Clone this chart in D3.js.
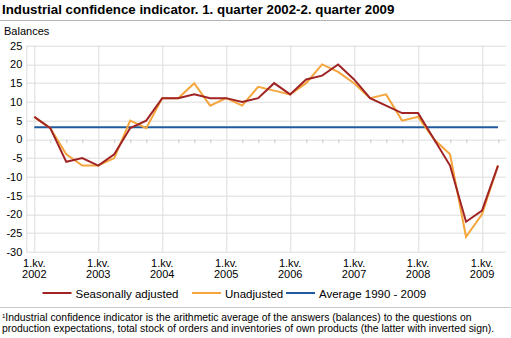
<!DOCTYPE html>
<html>
<head>
<meta charset="utf-8">
<script src="https://cdn.jsdelivr.net/npm/d3@7"></script>
<style>
body { margin:0; background:#fff; font-family: "Liberation Sans", Arial, sans-serif; }
svg text { fill:#000; }
</style>
</head>
<body>
<div id="chart"></div>
<script>
var quarters = [];
var years = [2002, 2003, 2004, 2005, 2006, 2007, 2008, 2009];
years.forEach(function(y) { for (var q = 1; q <= 4; q++) quarters.push(y + "Q" + q); });
quarters = quarters.slice(0, 30);

var seasonal = [6, 3, -6, -5, -7, -4, 3, 5, 11, 11, 12, 11, 11, 10, 11, 15,
                12, 16, 17, 20, 16, 11, 9, 7, 7, 0, -7, -22, -19, -7];
var unadjusted = [6, 3, -4, -7, -7, -5, 5, 3, 11, 11, 15, 9, 11, 9, 14, 13,
                  12, 15, 20, 18, 15, 11, 12, 5, 6, 0, -4, -26, -20, -7];
var average = 3.2;
var yTicks = [25, 20, 15, 10, 5, 0, -5, -10, -15, -20, -25, -30];

var W = 511, H = 338;
var margin = {top: 45.7, left: 26.3, right: 5, bottom: 86.3};
var width = W - margin.left - margin.right;
var height = H - margin.top - margin.bottom;

var svg = d3.select("#chart").append("svg")
  .attr("width", W).attr("height", H)
  .style("font-family", '"Liberation Sans", Arial, sans-serif');

svg.append("text").attr("x", 2).attr("y", 14)
  .style("font-size", "13.3px").style("font-weight", "bold")
  .text("Industrial confidence indicator. 1. quarter 2002-2. quarter 2009");
svg.append("line").attr("x1", 0).attr("x2", W).attr("y1", 20.5).attr("y2", 20.5)
  .attr("stroke", "#b3b3b3").attr("stroke-width", 1);
svg.append("text").attr("x", 4).attr("y", 35).style("font-size", "11px").text("Balances");

var g = svg.append("g").attr("transform", "translate(" + margin.left + "," + margin.top + ")");

var x = d3.scaleBand().domain(quarters).range([0, width]);
var y = d3.scaleLinear().domain([-30, 25]).range([height, 0]);
var cx = function(q) { return x(q) + x.bandwidth() / 2; };

// horizontal grid
g.selectAll(".hgrid").data(yTicks).enter().append("line")
  .attr("x1", 0).attr("x2", width)
  .attr("y1", function(d) { return Math.round(y(d)) + 0.5; })
  .attr("y2", function(d) { return Math.round(y(d)) + 0.5; })
  .attr("stroke", "#dcdcdc").attr("stroke-width", 1);

// vertical grid at 1st quarters
var firstQ = quarters.filter(function(q) { return /Q1$/.test(q); });
g.selectAll(".vgrid").data(firstQ).enter().append("line")
  .attr("x1", function(d) { return Math.round(cx(d)) + 0.5; })
  .attr("x2", function(d) { return Math.round(cx(d)) + 0.5; })
  .attr("y1", 0).attr("y2", height)
  .attr("stroke", "#dcdcdc").attr("stroke-width", 1);

// left axis line
g.append("line").attr("x1", 0.5).attr("x2", 0.5).attr("y1", 0).attr("y2", height)
  .attr("stroke", "#dcdcdc");

// quarter ticks on zero line
var otherQ = quarters.filter(function(q) { return !/Q1$/.test(q); });
g.selectAll(".qtick").data(otherQ).enter().append("line")
  .attr("x1", function(d) { return Math.round(cx(d)) + 0.5; })
  .attr("x2", function(d) { return Math.round(cx(d)) + 0.5; })
  .attr("y1", y(0)).attr("y2", y(0) + 4)
  .attr("stroke", "#cfcfcf");

// y tick labels
g.selectAll(".ylab").data(yTicks).enter().append("text")
  .attr("x", -4).attr("y", function(d) { return y(d) + 4; })
  .attr("text-anchor", "end").style("font-size", "11px")
  .text(function(d) { return d; });

// x tick labels
var xl = g.selectAll(".xlab").data(firstQ).enter().append("text")
  .attr("text-anchor", "middle").style("font-size", "11px")
  .attr("transform", function(d) { return "translate(" + cx(d) + "," + (height + 15) + ")"; });
xl.append("tspan").attr("x", 0).attr("y", 0).text("1.kv.");
xl.append("tspan").attr("x", 0).attr("y", 11).text(function(d) { return d.slice(0, 4); });

// average line
g.append("line").attr("x1", cx(quarters[0])).attr("x2", cx(quarters[quarters.length - 1]))
  .attr("y1", y(average)).attr("y2", y(average))
  .attr("stroke", "#1f5a9c").attr("stroke-width", 2);

var line = d3.line().x(function(d, i) { return cx(quarters[i]); }).y(function(d) { return y(d); });

g.append("path").datum(unadjusted).attr("d", line)
  .attr("fill", "none").attr("stroke", "#f5a53c").attr("stroke-width", 2)
  .attr("stroke-linejoin", "miter");
g.append("path").datum(seasonal).attr("d", line)
  .attr("fill", "none").attr("stroke", "#a02424").attr("stroke-width", 2)
  .attr("stroke-linejoin", "miter");

// legend
var legend = [
  {name: "Seasonally adjusted", color: "#a02424", x: 42.5},
  {name: "Unadjusted", color: "#f5a53c", x: 192},
  {name: "Average 1990 - 2009", color: "#1f5a9c", x: 286}
];
var lg = svg.selectAll(".legend").data(legend).enter().append("g")
  .attr("transform", function(d) { return "translate(" + d.x + ",293)"; });
lg.append("line").attr("x1", 0).attr("x2", 29).attr("y1", 0).attr("y2", 0)
  .attr("stroke", function(d) { return d.color; }).attr("stroke-width", 2);
lg.append("text").attr("x", 33).attr("y", 4.5).style("font-size", "11.5px")
  .text(function(d) { return d.name; });

svg.append("line").attr("x1", 0).attr("x2", W).attr("y1", 307.5).attr("y2", 307.5)
  .attr("stroke", "#c8c8c8");

var foot = svg.append("text").attr("x", 2).attr("y", 320.5).style("font-size", "10.4px");
foot.append("tspan").style("font-size", "6px").attr("dy", -3).text("1");
foot.append("tspan").attr("dy", 3).text("Industrial confidence indicator is the arithmetic average of the answers (balances) to the questions on");
svg.append("text").attr("x", 2).attr("y", 331.5).style("font-size", "10.4px")
  .text("production expectations, total stock of orders and inventories of own products (the latter with inverted sign).");
</script>
</body>
</html>
